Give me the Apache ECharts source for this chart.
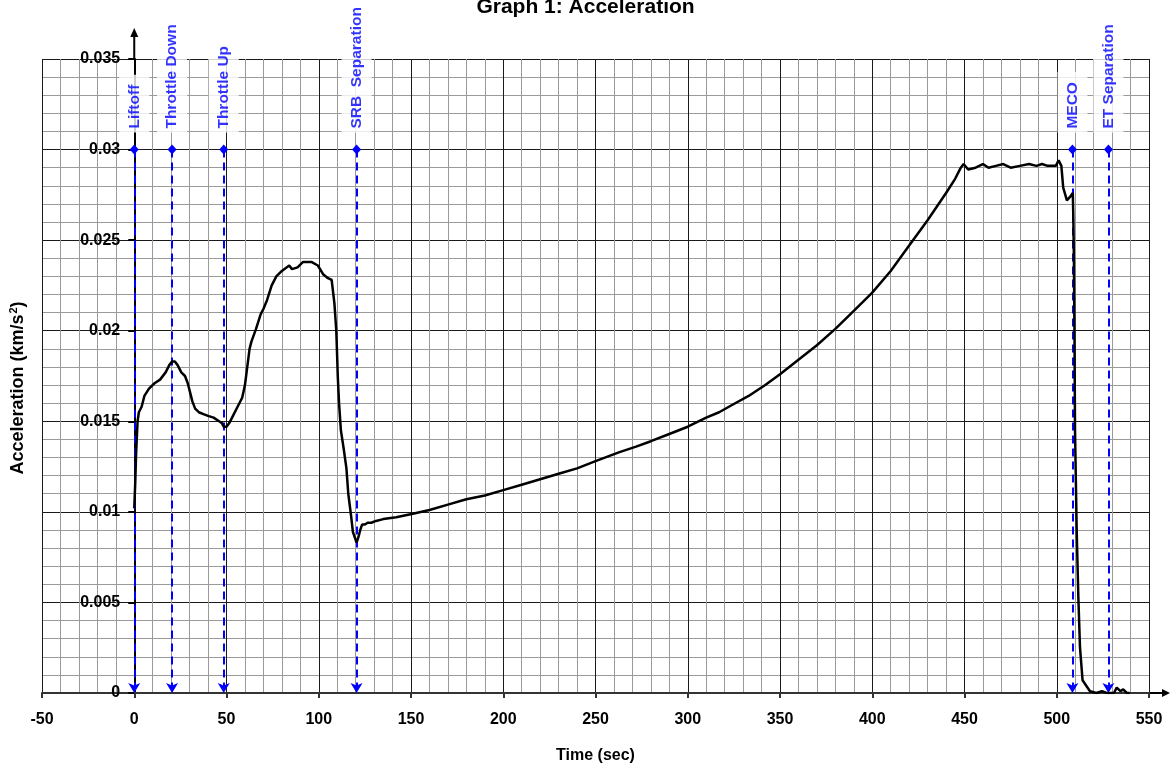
<!DOCTYPE html>
<html>
<head>
<meta charset="utf-8">
<title>Graph 1: Acceleration</title>
<script src="https://cdn.jsdelivr.net/npm/echarts@6/dist/echarts.min.js"></script>
<style>
  html, body { margin: 0; padding: 0; background: #fff; }
  #chart { width: 1171px; height: 770px; }
</style>
</head>
<body>
<div id="chart"></div>
<script>
// time (s) and acceleration (km/s^2)
var timeSec = [
  0, 0.5, 1, 1.8, 2.5, 4, 5.5, 8, 11, 14, 17, 19, 20.5, 22, 23.5, 25.5, 27.5, 29, 30.5, 31.5,
  33, 35, 37.5, 40, 43, 46, 47.5, 48.5, 50, 51.5, 53.5, 56, 58.5, 60, 61, 62.5, 63.5, 66, 68.5, 70,
  72, 74.5, 77, 80, 84, 85.5, 86.5, 88.5, 91.5, 96, 99.5, 102.5, 105, 107, 108.5, 109.5, 110, 110.3, 111, 112,
  113.5, 115, 116, 117.5, 118.5, 120.5, 121.5, 122.5, 123.5, 125, 126.5, 128.5, 131, 135, 142, 151, 160, 170, 180, 190,
  200, 210, 220, 230, 240, 250, 263, 272, 280, 290, 300, 310, 317, 324, 333, 342, 350, 360, 370, 380,
  390, 400, 410, 420, 430, 440, 445, 448, 449.5, 452, 456, 460, 463, 467, 471, 475, 480, 485, 489, 492,
  495, 499.5, 501, 502.5, 503.5, 505.5, 507.3, 508.7, 509, 509.3, 509.6, 509.9, 510.8, 511.7, 512.6, 514, 516, 518, 521.5, 524.5,
  527, 531, 532.5, 534.5, 536, 538, 539.5
];
var accel = [
  0.0102, 0.0115, 0.0132, 0.0150, 0.0155, 0.0158, 0.0164, 0.0168, 0.0171, 0.0173, 0.0177, 0.0181, 0.0183, 0.0183, 0.0181, 0.0177, 0.0175, 0.0171, 0.0165, 0.0161,
  0.0157, 0.0155, 0.0154, 0.0153, 0.0152, 0.0150, 0.0149, 0.0147, 0.0147, 0.0149, 0.0153, 0.0158, 0.0163, 0.0170, 0.0178, 0.0190, 0.0194, 0.0201, 0.0209, 0.0212,
  0.0217, 0.0225, 0.0230, 0.0233, 0.0236, 0.0234, 0.0233, 0.0235, 0.0238, 0.0238, 0.0236, 0.0231, 0.0229, 0.0228, 0.0215, 0.0200, 0.0185, 0.0175, 0.0160, 0.0145,
  0.0135, 0.0124, 0.0110, 0.0098, 0.0089, 0.0083, 0.0086, 0.0090, 0.0093, 0.0093, 0.0094, 0.0094, 0.0095, 0.0096, 0.0097, 0.0099, 0.0101, 0.0104, 0.0107, 0.0109,
  0.0112, 0.0115, 0.0118, 0.0121, 0.0124, 0.0128, 0.0133, 0.0136, 0.0139, 0.0143, 0.0147, 0.0152, 0.0155, 0.0159, 0.0164, 0.0170, 0.0176, 0.0184, 0.0192, 0.0201,
  0.0211, 0.0221, 0.0233, 0.0247, 0.0261, 0.0276, 0.0284, 0.0290, 0.0292, 0.0289, 0.0290, 0.0292, 0.0290, 0.0291, 0.0292, 0.0290, 0.0291, 0.0292, 0.0291, 0.0292,
  0.0291, 0.0291, 0.0294, 0.0291, 0.0279, 0.0272, 0.0274, 0.0276, 0.0262, 0.0240, 0.0200, 0.0145, 0.0090, 0.0053, 0.0025, 0.0007, 0.0004, 0.0001, 0.0000, 0.0001,
  0.0000, 0.0000, 0.0003, 0.0001, 0.0002, 0.0000, 0.0000
];

// flight events marked with dashed arrows
var eventNames = ['Liftoff', 'Throttle Down', 'Throttle Up', 'SRB  Separation', 'MECO', 'ET Separation'];
var eventTimes = [0, 20.5, 48.5, 120.5, 508.5, 528];
var eventTop = 0.03;

var xMin = -50, xMax = 550, xStep = 50;
var yMin = 0, yMax = 0.035, yStep = 0.005;

var FONT = "'Liberation Sans', Arial, sans-serif";
var W = 1171, GL = 42, GR = 22;

var chart = echarts.init(document.getElementById('chart'));

function axisCommon () {
  return {
    axisLabel: { fontFamily: FONT, fontSize: 16, fontWeight: 'bold', color: '#000' },
    splitLine: { show: true, lineStyle: { color: '#1a1a1a', width: 1 } },
    minorTick: { show: false, splitNumber: 5 },
    minorSplitLine: { show: true, lineStyle: { color: '#9a9a9a', width: 1 } }
  };
}

var xAx = axisCommon();
var yAx = axisCommon();

// the y axis sits on t = 0, not on the plot's left edge
var yAxisShift = -(0 - xMin) / (xMax - xMin) * (W - GL - GR);

var option = {
  backgroundColor: '#fff',
  animation: false,
  title: {
    text: 'Graph 1: Acceleration',
    left: 'center',
    top: -8,
    textStyle: { fontFamily: FONT, fontSize: 21, fontWeight: 'bold', color: '#000' }
  },
  grid: { left: GL, right: GR, top: 59, bottom: 77, containLabel: false, outerBoundsMode: 'none' },
  xAxis: {
    type: 'value',
    min: xMin,
    max: xMax,
    interval: xStep,
    name: 'Time (sec)',
    nameLocation: 'middle',
    nameGap: 55,
    nameTextStyle: { fontFamily: FONT, fontSize: 16, fontWeight: 'bold', color: '#000' },
    axisLine: { onZero: true, lineStyle: { color: '#333', width: 2 } },
    axisTick: { show: true, length: 5, lineStyle: { color: '#333', width: 2 } },
    axisLabel: Object.assign(xAx.axisLabel, { margin: 19 }),
    splitLine: xAx.splitLine,
    minorTick: xAx.minorTick,
    minorSplitLine: xAx.minorSplitLine
  },
  yAxis: {
    type: 'value',
    min: yMin,
    max: yMax,
    interval: yStep,
    offset: yAxisShift,
    name: 'Acceleration (km/s{sup|2})',
    nameLocation: 'middle',
    nameRotate: 90,
    nameGap: 106,
    nameTextStyle: {
      fontFamily: FONT, fontSize: 18, fontWeight: 'bold', color: '#000',
      padding: [0, 24, 0, 0],
      rich: { sup: { fontFamily: FONT, fontSize: 11, fontWeight: 'bold', color: '#000', padding: [0, 0, 9, 1] } }
    },
    axisLine: { onZero: false, lineStyle: { color: '#000', width: 2 } },
    axisTick: { show: true, length: 6, lineStyle: { color: '#000', width: 2 } },
    axisLabel: Object.assign(yAx.axisLabel, { margin: 14 }),
    splitLine: yAx.splitLine,
    minorTick: yAx.minorTick,
    minorSplitLine: yAx.minorSplitLine
  },
  series: [
    {
      name: 'Acceleration',
      type: 'line',
      data: timeSec.map(function (t, i) { return [t, accel[i]]; }),
      symbol: 'none',
      lineStyle: { color: '#000', width: 2.5 },
      z: 5
    },
    {
      name: 'Events',
      type: 'scatter',
      data: eventTimes.map(function (t) { return [t, eventTop]; }),
      symbolSize: 0,
      silent: true,
      z: 6,
      label: {
        show: true,
        formatter: function (p) { return eventNames[p.dataIndex]; },
        position: 'top',
        distance: 17,
        rotate: 90,
        align: 'left',
        verticalAlign: 'middle',
        color: '#0000ff',
        fontFamily: FONT,
        fontSize: 15.5,
        fontWeight: 'bold',
        backgroundColor: '#fff',
        padding: [8, 10, 6, 4]
      },
      markLine: {
        silent: true,
        symbol: ['diamond', 'arrow'],
        symbolSize: [9, 10],
        label: { show: false },
        lineStyle: { color: '#0000ff', type: [8, 5], width: 2 },
        data: eventTimes.map(function (t) { return [{ coord: [t, eventTop] }, { coord: [t, 0] }]; })
      }
    }
  ]
};

chart.setOption(option);

// axis arrows running past the plot frame
var top0 = chart.convertToPixel({ gridIndex: 0 }, [0, yMax]);
var right0 = chart.convertToPixel({ gridIndex: 0 }, [xMax, 0]);
chart.setOption({
  graphic: [
    { type: 'line', shape: { x1: top0[0], y1: top0[1], x2: top0[0], y2: top0[1] - 24 }, style: { stroke: '#000', lineWidth: 2 } },
    { type: 'polygon', shape: { points: [[top0[0] - 4, top0[1] - 22], [top0[0], top0[1] - 31], [top0[0] + 4, top0[1] - 22]] }, style: { fill: '#000' } },
    { type: 'line', shape: { x1: right0[0], y1: right0[1], x2: right0[0] + 14, y2: right0[1] }, style: { stroke: '#000', lineWidth: 2 } },
    { type: 'polygon', shape: { points: [[right0[0] + 13, right0[1] - 4], [right0[0] + 21, right0[1]], [right0[0] + 13, right0[1] + 4]] }, style: { fill: '#000' } }
  ]
});
</script>
</body>
</html>
